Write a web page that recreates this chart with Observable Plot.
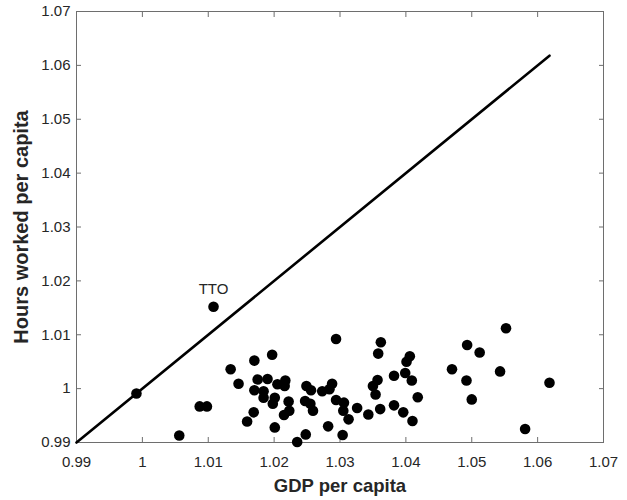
<!DOCTYPE html>
<html>
<head>
<meta charset="utf-8">
<script src="https://cdn.jsdelivr.net/npm/d3@7"></script>
<script src="https://cdn.jsdelivr.net/npm/@observablehq/plot@0.6"></script>
<style>
  html, body { margin: 0; padding: 0; background: #fff; }
  #chart { width: 627px; height: 500px; }
</style>
</head>
<body>
<div id="chart"></div>
<script>
// GDP per capita (x) and hours worked per capita (y)
const gdp = [
  0.9991, 1.0108, 1.0056, 1.0087, 1.0098, 1.0134, 1.0146, 1.0170, 1.0197, 1.0175,
  1.0190, 1.0170, 1.0184, 1.0184, 1.0201, 1.0198, 1.0205, 1.0217, 1.0216, 1.0222,
  1.0223, 1.0215, 1.0169, 1.0159, 1.0201, 1.0235, 1.0294, 1.0362, 1.0358, 1.0406,
  1.0401, 1.0470, 1.0399, 1.0382, 1.0409, 1.0357, 1.0350, 1.0354, 1.0418, 1.0382,
  1.0396, 1.0410, 1.0361, 1.0343, 1.0326, 1.0313, 1.0304, 1.0305, 1.0306, 1.0294,
  1.0282, 1.0288, 1.0284, 1.0273, 1.0249, 1.0256, 1.0247, 1.0255, 1.0259, 1.0248,
  1.0552, 1.0493, 1.0512, 1.0543, 1.0492, 1.0618, 1.0500, 1.0581
];
const hours = [
  0.9991, 1.0152, 0.9913, 0.9967, 0.9967, 1.0036, 1.0009, 1.0052, 1.0063, 1.0017,
  1.0018, 0.9997, 0.9995, 0.9983, 0.9983, 0.9972, 1.0008, 1.0015, 1.0005, 0.9976,
  0.9959, 0.9951, 0.9956, 0.9939, 0.9928, 0.9901, 1.0092, 1.0086, 1.0065, 1.0060,
  1.0050, 1.0036, 1.0029, 1.0024, 1.0015, 1.0016, 1.0005, 0.9989, 0.9984, 0.9969,
  0.9956, 0.9940, 0.9962, 0.9952, 0.9964, 0.9943, 0.9914, 0.9959, 0.9974, 0.9979,
  0.9930, 1.0009, 0.9999, 0.9995, 1.0005, 0.9997, 0.9977, 0.9972, 0.9959, 0.9915,
  1.0112, 1.0081, 1.0067, 1.0032, 1.0015, 1.0011, 0.9980, 0.9925
];
const labels = ["", "TTO"];
const tickValues = [0.99, 1.00, 1.01, 1.02, 1.03, 1.04, 1.05, 1.06, 1.07];
const tickLabels = ["0.99", "1", "1.01", "1.02", "1.03", "1.04", "1.05", "1.06", "1.07"];
const xTitle = "GDP per capita";
const yTitle = "Hours worked per capita";

const points = gdp.map((x, i) => ({x, y: hours[i], label: labels[i] || ""}));
const lo = tickValues[0];
const diag = [lo, d3.max(gdp)].map(v => ({x: v, y: v}));
const fmt = d => tickLabels[tickValues.findIndex(t => Math.abs(t - d) < 1e-9)];

const axisColor = "#6e6e6e";
const textColor = "#262626";
const font = "Liberation Sans, Arial, Helvetica, sans-serif";

const chart = Plot.plot({
  width: 627,
  height: 500,
  marginLeft: 76,
  marginRight: 24,
  marginTop: 11,
  marginBottom: 58,
  style: {fontFamily: font, background: "#fff", overflow: "visible"},
  x: {domain: [0.99, 1.07]},
  y: {domain: [0.99, 1.07]},
  marks: [
    Plot.frame({stroke: axisColor, strokeWidth: 1}),
    // bottom & left tick labels
    Plot.axisX({anchor: "bottom", ticks: tickValues, tickFormat: fmt, tickSize: 0, tickPadding: 14,
      fontSize: 15, fill: textColor, label: null}),
    Plot.axisY({anchor: "left", ticks: tickValues, tickFormat: fmt, tickSize: 0, tickPadding: 6,
      fontSize: 15, fill: textColor, label: null}),
    // inward ticks on all four sides
    Plot.axisX({anchor: "bottom", ticks: tickValues, tickSize: -5, text: null, label: null, stroke: axisColor}),
    Plot.axisX({anchor: "top", ticks: tickValues, tickSize: -5, text: null, label: null, stroke: axisColor}),
    Plot.axisY({anchor: "left", ticks: tickValues, tickSize: -5, text: null, label: null, stroke: axisColor}),
    Plot.axisY({anchor: "right", ticks: tickValues, tickSize: -5, text: null, label: null, stroke: axisColor}),
    // axis titles
    Plot.text([xTitle], {frameAnchor: "bottom", dy: 44, lineAnchor: "middle", textAnchor: "middle",
      text: d => d, fontSize: 18.5, fontWeight: "bold", fill: textColor}),
    Plot.text([yTitle], {frameAnchor: "left", dx: -55, rotate: -90, textAnchor: "middle",
      lineAnchor: "middle", text: d => d, fontSize: 20, fontWeight: "bold", fill: textColor}),
    // 45-degree line
    Plot.line(diag, {x: "x", y: "y", stroke: "#000", strokeWidth: 2.6}),
    // points
    Plot.dot(points, {x: "x", y: "y", r: 5.3, fill: "#000", stroke: "none"}),
    Plot.text(points.filter(d => d.label), {x: "x", y: "y", text: "label", dy: -18,
      fontSize: 15, fill: textColor})
  ]
});
document.getElementById("chart").appendChild(chart);
</script>
</body>
</html>
